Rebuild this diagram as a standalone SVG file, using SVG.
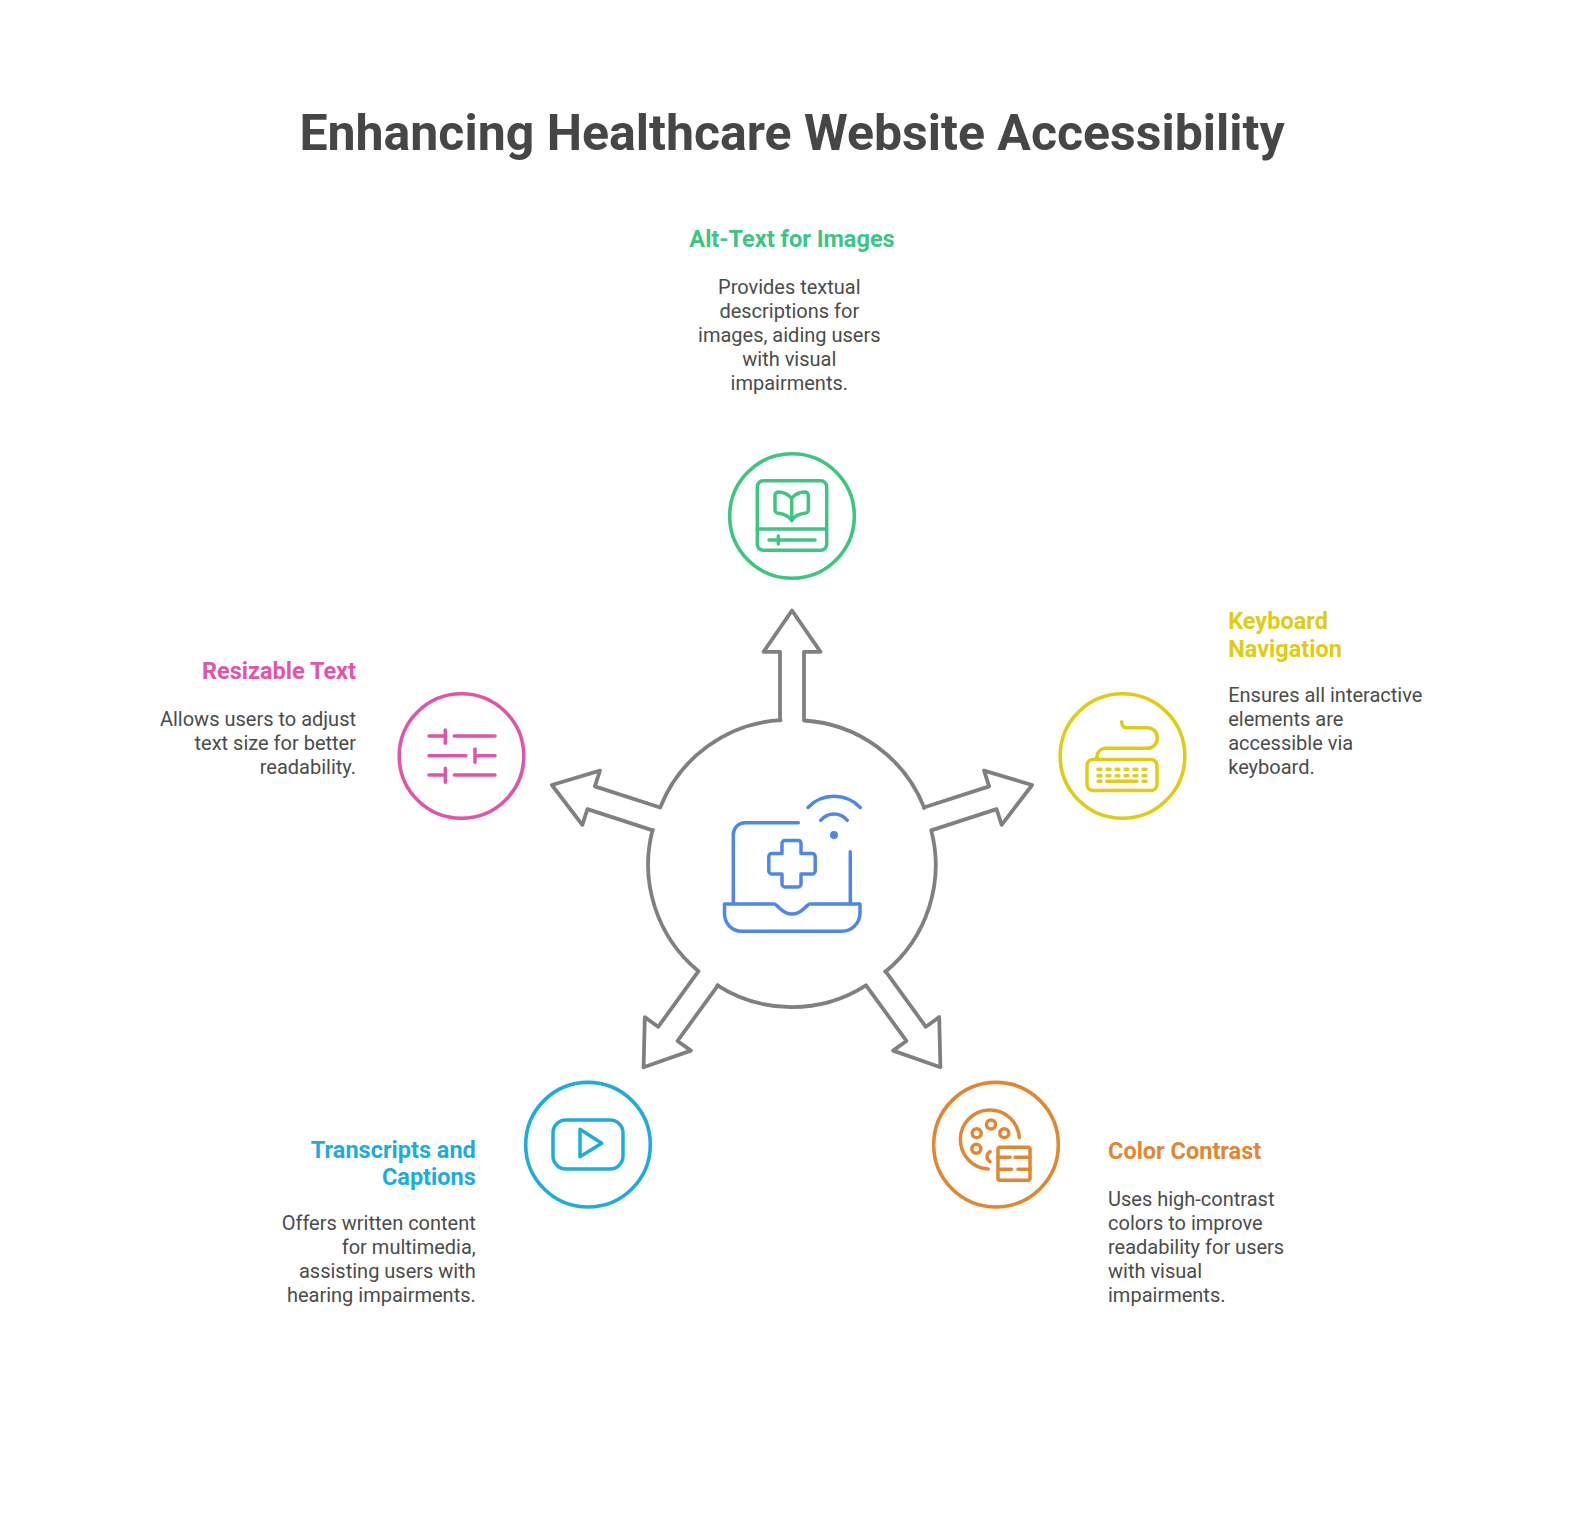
<svg xmlns="http://www.w3.org/2000/svg" width="1584" height="1536" viewBox="0 0 1584 1536">
<style>
text{font-family:Roboto,"Liberation Sans",sans-serif}
.title{font-size:50px;font-weight:700;fill:#464646;text-anchor:middle}
.h{font-size:23.5px;font-weight:700}
.b{font-size:20px;fill:#4b4b4b}
.m{text-anchor:middle}.e{text-anchor:end}
.ring{fill:none;stroke-width:3.6}
.ic{fill:none;stroke-width:3.5;stroke-linecap:round;stroke-linejoin:round}
.arm{fill:none;stroke:#808080;stroke-width:3.8;stroke-linejoin:round;stroke-linecap:round}
.green{stroke:#3cc583}.yellow{stroke:#e0cb15}.pink{stroke:#e055a8}.orange{stroke:#e18731}.blue{stroke:#1eacdd}.center{stroke:#4e88e7}
</style>
<defs><path id="arm" class="arm" d="M780 720.5V651.8H763.5L792 610.5L820.5 651.8H804V720.5A138 138 0 0 1 924.29 807.9"/></defs>
<rect width="1584" height="1536" fill="#fff"/>
<text class="title" x="792" y="150">Enhancing Healthcare Website Accessibility</text>
<g id="connectors">
<use href="#arm"/>
<use href="#arm" transform="rotate(72 792 863)"/>
<use href="#arm" transform="rotate(144 792 863)"/>
<use href="#arm" transform="rotate(216 792 863)"/>
<use href="#arm" transform="rotate(288 792 863)"/>
</g>
<g id="center-icon" class="ic center">
<path d="M798.3 822.7H745a11.7 11.7 0 0 0 -11.7 11.7V903.3M850.3 851.7V903.3"/>
<path d="M724.5 904H774C778 904 781 914 792 914C803 914 806 904 810 904H860V913C860 924 851 931.2 842 931.2H742C732 931.2 724.5 924 724.5 913Z"/>
<path d="M785.5 840.5H798.5A3 3 0 0 1 801 843.5V853.5H812.2A3 3 0 0 1 815.2 856.5V871A3 3 0 0 1 812.2 874H801V884A3 3 0 0 1 798 887H785A3 3 0 0 1 782 884V874H771.8A3 3 0 0 1 768.8 871V856.5A3 3 0 0 1 771.8 853.5H782V843.5A3 3 0 0 1 785.5 840.5Z"/>
<path d="M808 807.5C822 792.5 846 792.5 860.3 807.5M820.7 820.3C828 812 840 812 847.3 820.3"/>
<circle cx="834" cy="835" r="4" fill="#4e88e7" stroke="none"/>
</g>
<g id="node-alt-text">
<circle class="ring green" cx="792" cy="516" r="62.3"/>
<g class="ic green">
<rect x="757.3" y="480.7" width="69.4" height="69.6" rx="6"/>
<path d="M757.3 529H826.7M769 540H815M778.3 536V544"/>
<path d="M791.7 498.3C788 494 784 492 778.3 492A3.3 3.3 0 0 0 775 495.3V510A3.3 3.3 0 0 0 778.3 513.3C784 514 789 516 791.7 520.7C794 516 799 514 805 513.3A3.3 3.3 0 0 0 808.3 510V495.3A3.3 3.3 0 0 0 805 492C799 492 795 494 791.7 498.3V520.7"/>
</g>
<text class="h m" x="792" y="247" fill="#3cc583">Alt-Text for Images</text>
<text class="b m" x="789.3" y="294">Provides textual</text>
<text class="b m" x="789.3" y="318">descriptions for</text>
<text class="b m" x="789.3" y="342">images, aiding users</text>
<text class="b m" x="789.3" y="366">with visual</text>
<text class="b m" x="789.3" y="390">impairments.</text>
</g>
<g id="node-keyboard">
<circle class="ring yellow" cx="1122.5" cy="756" r="62.3"/>
<g class="ic yellow">
<rect x="1087" y="759.5" width="70" height="31" rx="6"/>
<path d="M1121.7 721.7C1121.7 725 1123 727.7 1127 727.7H1147C1153 727.7 1157.3 732 1157.3 738C1157.3 744 1153 748.3 1147 748.3H1106C1100 748.3 1096.7 753 1096.7 759.3"/>
<path stroke-width="3.4" d="M1098 769.3h3M1107 769.3h3M1116 769.3h3M1125 769.3h3M1134 769.3h3M1143 769.3h3M1098 775.7h3M1107 775.7h3M1116 775.7h3M1125 775.7h3M1134 775.7h3M1143 775.7h3M1098 781.3h3M1107 781.3h30M1143 781.3h3"/>
</g>
<text class="h" x="1228.2" y="628.5" fill="#e0cb15">Keyboard</text>
<text class="h" x="1228.2" y="656.5" fill="#e0cb15">Navigation</text>
<text class="b" x="1228.2" y="702">Ensures all interactive</text>
<text class="b" x="1228.2" y="726">elements are</text>
<text class="b" x="1228.2" y="750">accessible via</text>
<text class="b" x="1228.2" y="774">keyboard.</text>
</g>
<g id="node-resizable">
<circle class="ring pink" cx="461.5" cy="756" r="62.3"/>
<path class="ic pink" d="M429 736H445M445.3 730V743.3M454.3 736H495M429 755.7H466M475 749V762.3M475 755.7H495M429 775H445M445.3 768.3V782.3M454.3 775H495"/>
<text class="h e" x="356" y="679" fill="#e055a8">Resizable Text</text>
<text class="b e" x="356" y="725.5">Allows users to adjust</text>
<text class="b e" x="356" y="749.5">text size for better</text>
<text class="b e" x="356" y="773.5">readability.</text>
</g>
<g id="node-color">
<circle class="ring orange" cx="996" cy="1144.7" r="62.3"/>
<g class="ic orange">
<path d="M1019.3 1137.7A29.5 29.5 0 1 0 988.3 1169M990 1151.7Q984 1156.7 990 1161.7"/>
<circle cx="991" cy="1124.5" r="4.5"/><circle cx="976.7" cy="1133.2" r="4.5"/><circle cx="1004.3" cy="1133.2" r="4.5"/><circle cx="976.3" cy="1148.8" r="4.5"/>
<rect x="998" y="1147.2" width="32" height="33" rx="2"/>
<path d="M998 1157.3H1010M1015 1157.3H1030M998 1169.3H1011.5M1018 1169.3H1030"/>
</g>
<text class="h" x="1108" y="1159" fill="#e18731">Color Contrast</text>
<text class="b" x="1108" y="1206">Uses high-contrast</text>
<text class="b" x="1108" y="1230">colors to improve</text>
<text class="b" x="1108" y="1254">readability for users</text>
<text class="b" x="1108" y="1278">with visual</text>
<text class="b" x="1108" y="1302">impairments.</text>
</g>
<g id="node-transcripts">
<circle class="ring blue" cx="588" cy="1144.7" r="62.3"/>
<g class="ic blue">
<rect x="553" y="1120" width="70" height="49" rx="13"/>
<path d="M580 1129.3L601.7 1143.3L580 1156.7Z"/>
</g>
<text class="h e" x="475.8" y="1157.5" fill="#1eacdd">Transcripts and</text>
<text class="h e" x="475.8" y="1185" fill="#1eacdd">Captions</text>
<text class="b e" x="475.8" y="1229.5">Offers written content</text>
<text class="b e" x="475.8" y="1253.5">for multimedia,</text>
<text class="b e" x="475.8" y="1277.5">assisting users with</text>
<text class="b e" x="475.8" y="1301.5">hearing impairments.</text>
</g>
</svg>
